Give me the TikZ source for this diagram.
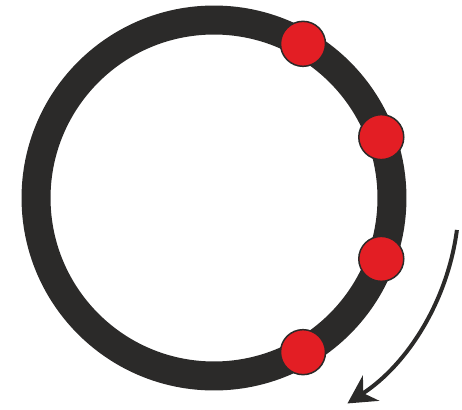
\documentclass[tikz,border=0pt]{standalone}
\usepackage{xcolor}
\usepackage{tikz}
\usetikzlibrary{arrows.meta, positioning, calc}
\definecolor{ring-dark}{RGB}{43, 42, 41}
\definecolor{dot-red}{RGB}{227, 30, 36}

\begin{document}
\begin{tikzpicture}[
    x=0.02cm, y=0.02cm,
    ring/.style={circle, draw=ring-dark, line width=0.58cm,
                 minimum size=7.12cm, inner sep=0pt},
    dot/.style={circle, fill=dot-red, draw=ring-dark, line width=0.03cm,
                minimum size=0.9cm, inner sep=0pt},
    arr/.style={-{Stealth[length=0.56cm, width=0.6cm]}, line width=0.08cm, color=ring-dark}
  ]
    \useasboundingbox (-214,-211) rectangle (248,198);
    \node[ring] (r) at (0,0) {};
    \node[dot] (d1) at ($(r.center)+(60:178)$)  {};
    \node[dot] (d2) at ($(r.center)+(20:178)$)  {};
    \node[dot] (d3) at ($(r.center)+(-20:178)$) {};
    \node[dot] (d4) at ($(r.center)+(-60:178)$) {};
    % turning direction
    \coordinate (t) at ($(r.center)+(-7.5:245)$);
    \draw[arr] (t) arc[start angle=-7.5, end angle=-57, radius=4.9cm];
  \end{tikzpicture}
\end{document}
